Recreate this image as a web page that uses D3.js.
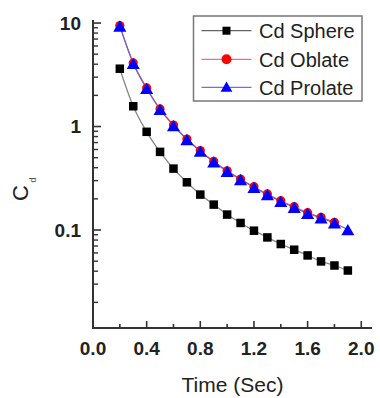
<!DOCTYPE html>
<html>
<head>
<meta charset="utf-8">
<script src="https://cdn.jsdelivr.net/npm/d3@7"></script>
<style>
  html, body { margin: 0; padding: 0; background: #fff; }
  svg { display: block; }
  text { font-family: "Liberation Sans", Arial, sans-serif; }
</style>
</head>
<body>
<svg id="chart" width="380" height="398"></svg>
<script>
// ---- data ----
const time = [0.2,0.3,0.4,0.5,0.6,0.7,0.8,0.9,1.0,1.1,1.2,1.3,1.4,1.5,1.6,1.7,1.8,1.9];
const cdSphere = [3.62,1.57,0.889,0.569,0.392,0.289,0.220,0.176,0.141,0.117,0.0985,0.0848,0.0732,0.0645,0.0568,0.0497,0.0454,0.0406];
const cdOblate = [9.45,4.12,2.36,1.48,1.035,0.758,0.585,0.461,0.374,0.311,0.262,0.223,0.192,0.168,0.147,0.1325,0.1188];
const cdProlate = [9.35,4.07,2.33,1.46,1.02,0.748,0.577,0.455,0.369,0.307,0.258,0.220,0.189,0.1655,0.145,0.1306,0.117,0.1007];
const xTickMajor = [0.0,0.4,0.8,1.2,1.6,2.0];
const xTickMinor = [0.2,0.6,1.0,1.4,1.8];
const yTickMajor = [0.1,1,10];
const yTickLabels = ["0.1","1","10"];
const seriesNames = ["Cd Sphere","Cd Oblate","Cd Prolate"];

const svg = d3.select("#chart");
const x = d3.scaleLinear().domain([0, 2.08]).range([93, 372]);
const y = d3.scaleLog().domain([0.0113, 10.7]).range([328, 20]);

// minor y ticks (2..9 per decade) within domain
const yMinor = [];
[0.01, 0.1, 1].forEach(d => { for (let k = 2; k <= 9; k++) { const v = d * k; if (v >= y.domain()[0] && v <= y.domain()[1]) yMinor.push(v); } });

const axisColor = "#333";
const textColor = "#222";

// ---- lines ----
const line = d3.line().x(d => x(d[0])).y(d => y(d[1])).curve(d3.curveMonotoneX);
const sData = time.map((t,i) => [t, cdSphere[i]]);
const oData = cdOblate.map((v,i) => [time[i], v]);
const pData = cdProlate.map((v,i) => [time[i], v]);

svg.append("path").attr("d", line(sData)).attr("fill","none").attr("stroke","#888").attr("stroke-width",1.3);
svg.append("path").attr("d", line(oData)).attr("fill","none").attr("stroke","#f06060").attr("stroke-width",1.2);
svg.append("path").attr("d", line(pData)).attr("fill","none").attr("stroke","#6a5fd0").attr("stroke-width",1.2);

// ---- markers ----
const sq = 8.5;
svg.selectAll("rect.s").data(sData).join("rect")
  .attr("x", d => x(d[0]) - sq/2).attr("y", d => y(d[1]) - sq/2)
  .attr("width", sq).attr("height", sq).attr("fill", "#000");

svg.selectAll("circle.o").data(oData).join("circle")
  .attr("cx", d => x(d[0])).attr("cy", d => y(d[1])).attr("r", 4.6).attr("fill", "#ff0000");

const tri = d3.symbol().type(d3.symbolTriangle).size(74);
svg.selectAll("path.p").data(pData).join("path")
  .attr("d", tri).attr("transform", d => `translate(${x(d[0])},${y(d[1]) + 1.8})`).attr("fill", "#0000ff");

// ---- axes ----
const [x0, x1] = x.range();
const [yb, yt] = y.range();
svg.append("line").attr("x1", x0).attr("x2", x1).attr("y1", yb).attr("y2", yb).attr("stroke", axisColor).attr("stroke-width", 2);
svg.append("line").attr("x1", x0).attr("x2", x0).attr("y1", yb + 1).attr("y2", yt).attr("stroke", axisColor).attr("stroke-width", 2);

// x ticks (inward)
svg.selectAll("line.xM").data(xTickMajor).join("line")
  .attr("x1", d => x(d)).attr("x2", d => x(d)).attr("y1", yb).attr("y2", yb - 7)
  .attr("stroke", axisColor).attr("stroke-width", 1.6);
svg.selectAll("line.xm").data(xTickMinor).join("line")
  .attr("x1", d => x(d)).attr("x2", d => x(d)).attr("y1", yb).attr("y2", yb - 4)
  .attr("stroke", axisColor).attr("stroke-width", 1.6);
svg.selectAll("text.xl").data(xTickMajor).join("text")
  .attr("x", d => x(d)).attr("y", yb + 27).attr("text-anchor", "middle")
  .attr("font-size", 19).attr("font-weight", "bold").attr("fill", textColor)
  .text(d => d3.format(".1f")(d));

// y ticks (inward)
svg.selectAll("line.yM").data(yTickMajor).join("line")
  .attr("x1", x0).attr("x2", x0 + 8).attr("y1", d => y(d)).attr("y2", d => y(d))
  .attr("stroke", axisColor).attr("stroke-width", 1.6);
svg.selectAll("line.ym").data(yMinor).join("line")
  .attr("x1", x0).attr("x2", x0 + 5).attr("y1", d => y(d)).attr("y2", d => y(d))
  .attr("stroke", axisColor).attr("stroke-width", 1.4);
svg.selectAll("text.yl").data(yTickMajor).join("text")
  .attr("x", 81).attr("y", d => y(d)).attr("dy", "0.36em").attr("text-anchor", "end")
  .attr("font-size", 19).attr("font-weight", "bold").attr("fill", textColor)
  .text((d,i) => yTickLabels[i]);

// axis titles
svg.append("text").attr("x", (x0 + x1) / 2).attr("y", 392).attr("text-anchor", "middle")
  .attr("font-size", 21).attr("fill", textColor).text("Time (Sec)");
svg.append("text").attr("transform", "translate(28,193) rotate(-90)").attr("text-anchor", "middle")
  .attr("font-size", 22).attr("fill", textColor).text("C");
svg.append("text").attr("transform", "translate(36,180) rotate(-90)").attr("text-anchor", "middle")
  .attr("font-size", 9).attr("fill", "#555").text("d");

// ---- legend ----
const lg = svg.append("g");
lg.append("rect").attr("x", 193.5).attr("y", 16).attr("width", 168.5).attr("height", 85)
  .attr("fill", "#fff").attr("stroke", "#777").attr("stroke-width", 1.5);
const rowsY = [30.7, 59.3, 87.3];
const lineCols = ["#666", "#ff6b6b", "#6b6bff"];
const markCols = ["#000", "#ff0000", "#0000ff"];
seriesNames.forEach((name, i) => {
  const yy = rowsY[i];
  lg.append("line").attr("x1", 201.5).attr("x2", 251.5).attr("y1", yy).attr("y2", yy)
    .attr("stroke", lineCols[i]).attr("stroke-width", 1.2);
  if (i === 0) {
    lg.append("rect").attr("x", 226.5 - 4).attr("y", yy - 4).attr("width", 8).attr("height", 8).attr("fill", markCols[i]);
  } else if (i === 1) {
    lg.append("circle").attr("cx", 226.5).attr("cy", yy).attr("r", 5).attr("fill", markCols[i]);
  } else {
    lg.append("path").attr("d", d3.symbol().type(d3.symbolTriangle).size(60)).attr("transform", `translate(226.5,${yy + 1})`).attr("fill", markCols[i]);
  }
  lg.append("text").attr("x", 259).attr("y", yy).attr("dy", "0.36em")
    .attr("font-size", 20).attr("fill", textColor).text(name);
});
</script>
</body>
</html>
